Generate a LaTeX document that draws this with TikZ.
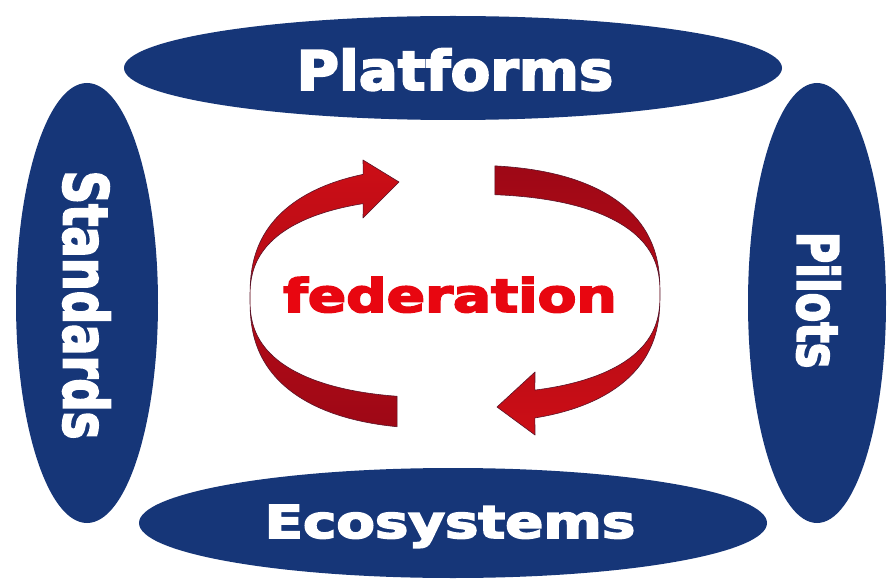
\documentclass[tikz,border=0pt]{standalone}
\usepackage{graphicx}
\usepackage{fontspec}
\setmainfont{DejaVu Sans}
\newfontfamily\heavy[BoldFeatures={FakeBold=3.5}]{DejaVu Sans}
\usetikzlibrary{shapes.geometric}
\definecolor{navy}{RGB}{22,54,120}
\definecolor{fedred}{RGB}{232,6,16}
\definecolor{bandedge}{RGB}{90,20,40}
\definecolor{bandA}{RGB}{204,14,22}
\definecolor{bandB}{RGB}{158,8,22}
\begin{document}
\begin{tikzpicture}[x=1pt,y=-1pt,
  blob/.style={ellipse, fill=navy, draw=none, inner sep=0pt},
  lbl/.style={text=white, inner sep=0pt},
  fed/.style={text=fedred, inner sep=0pt},
  band/.style={draw=bandedge, line width=0.6pt, line join=round}]
\useasboundingbox (0,0) rectangle (889,580);
\fill[white] (0,0) rectangle (889,580);
% ellipses
\node[blob, minimum width=658pt, minimum height=104pt] (plat) at (453,68) {};
\node[blob, minimum width=628pt, minimum height=110pt] (eco) at (453,523) {};
\node[blob, minimum width=142pt, minimum height=440pt] (std) at (87,303) {};
\node[blob, minimum width=138pt, minimum height=440pt] (pil) at (817,303) {};
% labels
\node[lbl, anchor=base, font=\heavy\bfseries\fontsize{54.5}{55}\selectfont] (tplat) at (455,90) {\scalebox{1.06}[1]{Platforms}};
\node[lbl, anchor=base, font=\heavy\bfseries\fontsize{45.3}{46}\selectfont] (teco) at (450,538) {\scalebox{1.24}[1]{Ecosystems}};
\node[lbl, rotate=-90, font=\heavy\bfseries\fontsize{46.5}{47}\selectfont] (tstd) at (86.5,305) {\scalebox{1}[1.32]{Standards}};
\node[lbl, rotate=-90, font=\heavy\bfseries\fontsize{43}{44}\selectfont] (tpil) at (818.5,300) {\scalebox{1}[1.32]{Pilots}};
% left arrow
\path[band, top color=bandA, bottom color=bandB]
  plot[domain=101.9:248.5, samples=60, smooth]
    ({455+205*cos(\x)*(abs(cos(\x))+0.00001)^(-0.2)},
     {298+131*sin(\x)*(abs(sin(\x))+0.00001)^(-0.2)})
  -- (363,160) -- (399,182) -- (363,218)
  -- plot[domain=248.5:101.9, samples=60, smooth]
    ({455+205*cos(\x)*(abs(cos(\x))+0.00001)^(-0.2)},
     {298+100*sin(\x)*(abs(sin(\x))+0.00001)^(-0.2)})
  -- cycle;
% right arrow
\path[band, top color=bandB, bottom color=bandA]
  plot[domain=-82.55:72.06, samples=60, smooth]
    ({455+205*cos(\x)*(abs(cos(\x))+0.00001)^(-0.2)},
     {294+129*sin(\x)*(abs(sin(\x))+0.00001)^(-0.2)})
  -- (535,435) -- (497,407) -- (535,372)
  -- plot[domain=72.06:-82.55, samples=60, smooth]
    ({455+205*cos(\x)*(abs(cos(\x))+0.00001)^(-0.2)},
     {294+100*sin(\x)*(abs(sin(\x))+0.00001)^(-0.2)})
  -- cycle;
% centre text
\node[fed, anchor=base, font=\heavy\bfseries\fontsize{46}{46}\selectfont] (tfed) at (450,312) {\scalebox{1.23}[1]{federation}};
\end{tikzpicture}
\end{document}
